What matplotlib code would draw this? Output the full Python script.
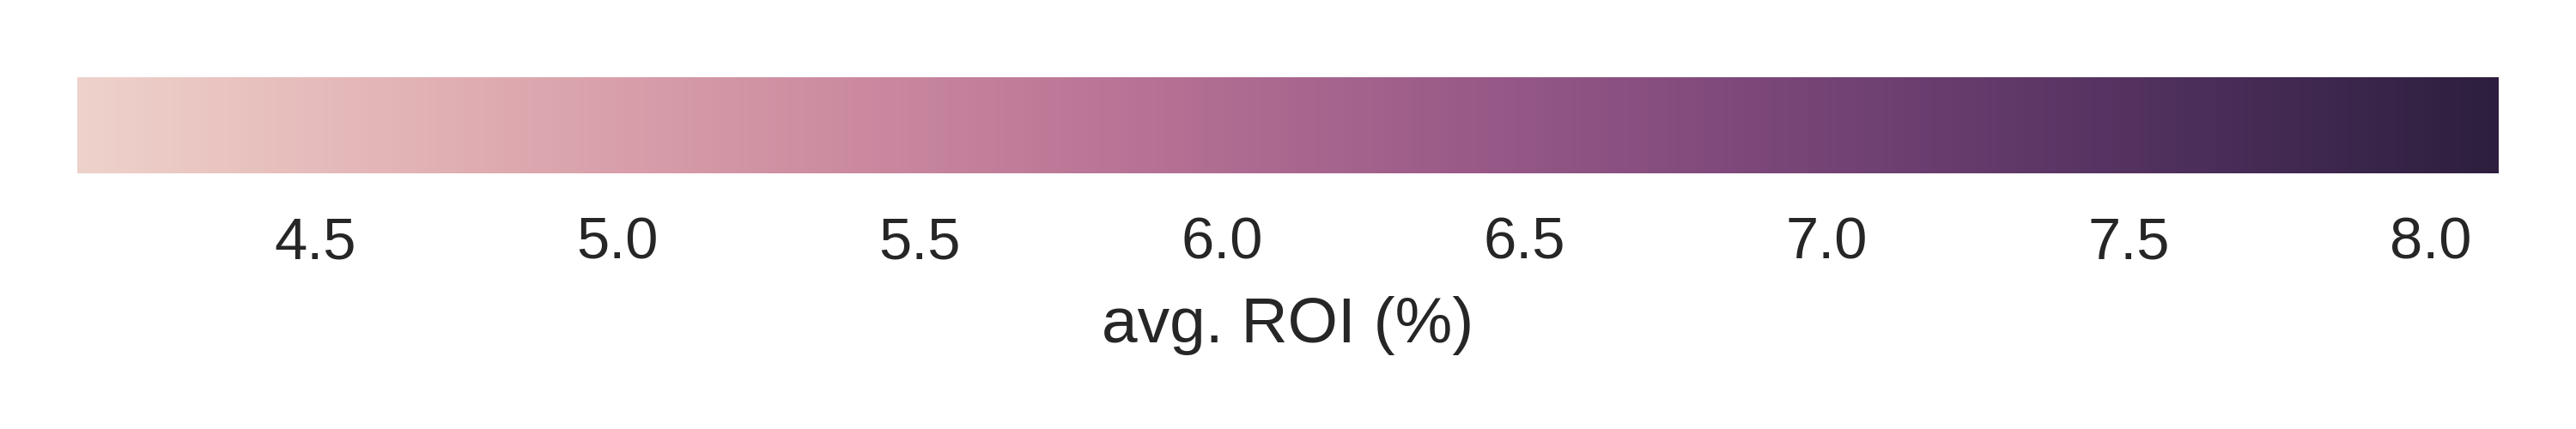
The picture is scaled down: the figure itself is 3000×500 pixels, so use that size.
import matplotlib
matplotlib.use("Agg")
import matplotlib.pyplot as plt
import matplotlib as mpl
import seaborn as sns

sns.set_style("white")
plt.rcParams['font.family'] = ['Liberation Sans', 'DejaVu Sans']

# colour scale range and ticks
roi_min = 4.107
roi_max = 8.112
tick_values = [4.5, 5.0, 5.5, 6.0, 6.5, 7.0, 7.5, 8.0]
label = 'avg. ROI (%)'

cmap = sns.cubehelix_palette(as_cmap=True)
norm = mpl.colors.Normalize(vmin=roi_min, vmax=roi_max)

fig = plt.figure(figsize=(10, 500 / 300), dpi=300)
cax = fig.add_axes([0.03, 0.596, 0.94, 0.224])
cb = mpl.colorbar.ColorbarBase(cax, cmap=cmap, norm=norm, orientation='horizontal')
cb.outline.set_visible(False)
cb.set_ticks(tick_values)
cb.ax.tick_params(length=0, labelsize=16.5, labelcolor='#262626', pad=12)
cb.set_label(label, fontsize=18, color='#262626', labelpad=7)

fig.savefig('out.png', dpi=300)
